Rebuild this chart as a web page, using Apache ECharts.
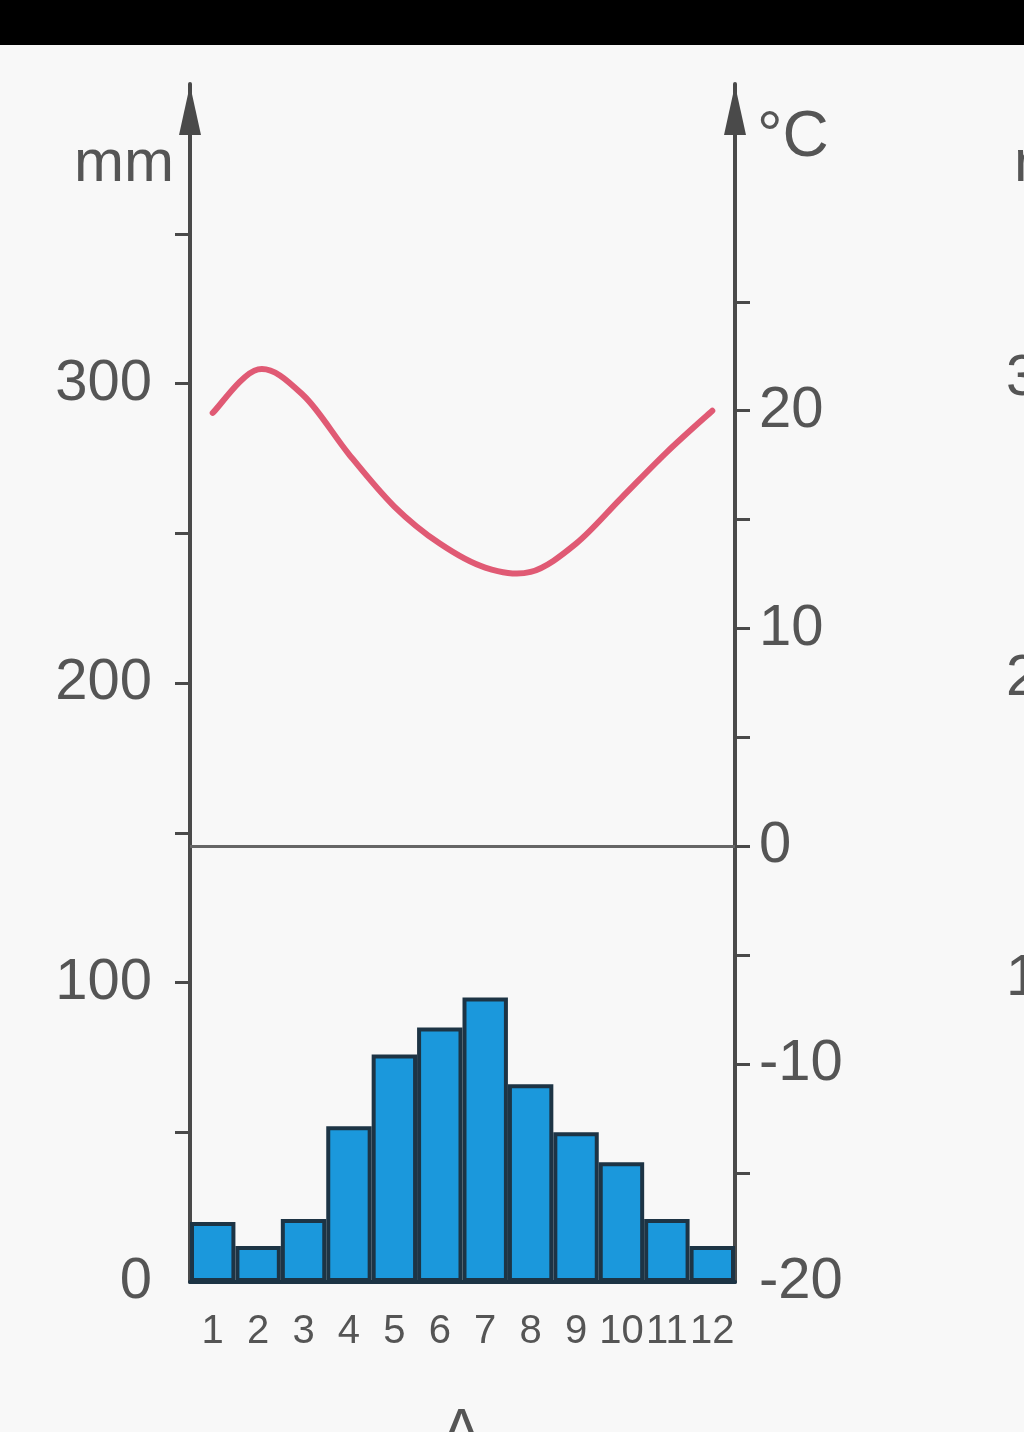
<!DOCTYPE html>
<html>
<head>
<meta charset="utf-8">
<script src="https://cdn.jsdelivr.net/npm/echarts@6/dist/echarts.min.js"></script>
<style>
html,body{margin:0;padding:0;background:#f8f8f8;}
#chart{width:1024px;height:1432px;}
</style>
</head>
<body>
<div id="chart"></div>
<script>
const months = ['1','2','3','4','5','6','7','8','9','10','11','12'];
const precipitation = [20, 12, 21, 52, 76, 85, 95, 66, 50, 40, 21, 12];
const temperature = [19.9, 21.9, 20.7, 18.0, 15.6, 13.9, 12.8, 12.6, 13.9, 16.0, 18.1, 20.0];
const mmTicks = [50, 100, 150, 200, 250, 300, 350];
const mmLabels = [0, 100, 200, 300];
const tTicks = [-15, -10, -5, 0, 5, 10, 15, 20, 25];
const tLabels = [-20, -10, 0, 10, 20];

const FONT = '"Liberation Sans", Arial, sans-serif';
const TXT = '#555555';
const AX = '#4a4a4a';

// smooth curve through the temperature points, positioned by the axes (api.coord)
function renderTemp(params, api) {
  if (params.dataIndex !== 0) return null;
  const pts = temperature.map((v, i) => api.coord([i, v]));
  let d = 'M' + pts[0][0] + ' ' + pts[0][1];
  for (let i = 0; i < pts.length - 1; i++) {
    const p0 = pts[Math.max(i - 1, 0)], p1 = pts[i], p2 = pts[i + 1], p3 = pts[Math.min(i + 2, pts.length - 1)];
    const c1x = p1[0] + (p2[0] - p0[0]) / 6, c1y = p1[1] + (p2[1] - p0[1]) / 6;
    const c2x = p2[0] - (p3[0] - p1[0]) / 6, c2y = p2[1] - (p3[1] - p1[1]) / 6;
    d += ' C' + c1x + ' ' + c1y + ' ' + c2x + ' ' + c2y + ' ' + p2[0] + ' ' + p2[1];
  }
  return {
    type: 'path',
    shape: {pathData: d},
    style: {fill: 'none', stroke: '#e05a74', lineWidth: 6, lineCap: 'round'}
  };
}

const chart = echarts.init(document.getElementById('chart'));
chart.setOption({
  backgroundColor: '#f8f8f8',
  animation: false,
  grid: {left: 190, right: 289, top: 84, bottom: 150},
  xAxis: {
    type: 'category',
    data: months,
    boundaryGap: true,
    axisLine: {show: true, lineStyle: {color: '#1d3445', width: 4}},
    axisTick: {show: false},
    axisLabel: {fontFamily: FONT, fontSize: 40, color: TXT, margin: 30, interval: 0}
  },
  yAxis: [
    {
      type: 'value', position: 'left', min: 0, max: 400, interval: 50,
      splitLine: {show: false},
      axisLine: {show: true, symbol: ['none', 'triangle'], symbolSize: [22, 50], symbolOffset: [0, -26],
                 lineStyle: {color: AX, width: 4}},
      axisTick: {show: true, length: 15, customValues: mmTicks, lineStyle: {color: AX, width: 3}},
      axisLabel: {customValues: mmLabels, fontFamily: FONT, fontSize: 58, color: TXT, margin: 38}
    },
    {
      type: 'value', position: 'right', min: -20, max: 35, interval: 5,
      splitLine: {show: false},
      axisLine: {show: true, symbol: ['none', 'triangle'], symbolSize: [22, 50], symbolOffset: [0, -26],
                 lineStyle: {color: AX, width: 4}},
      axisTick: {show: true, length: 15, customValues: tTicks, lineStyle: {color: AX, width: 3}},
      axisLabel: {customValues: tLabels, fontFamily: FONT, fontSize: 58, color: TXT, margin: 24}
    }
  ],
  series: [
    {
      type: 'bar', yAxisIndex: 0, data: precipitation, barCategoryGap: '0%',
      itemStyle: {color: '#1b98dc', borderColor: '#1d3445', borderWidth: 4}
    },
    {
      type: 'custom', yAxisIndex: 1, coordinateSystem: 'cartesian2d',
      data: temperature.map((v, i) => [i, v]),
      encode: {x: 0, y: 1},
      renderItem: renderTemp,
      clip: false,
      markLine: {
        silent: true, symbol: ['none', 'none'], label: {show: false},
        lineStyle: {color: '#666666', width: 3, type: 'solid'},
        data: [{yAxis: 0}]
      }
    }
  ],
  graphic: [
    {type: 'rect', left: 0, top: 0, shape: {width: 1024, height: 45}, style: {fill: '#000'}},
    {type: 'text', left: 74, top: 134, style: {text: 'mm', font: '60px "Liberation Sans"', fill: TXT}},
    {type: 'text', left: 757, top: 106, style: {text: '°C', font: '64px "Liberation Sans"', fill: TXT}},
    {type: 'text', left: 1014, top: 134, style: {text: 'mm', font: '60px "Liberation Sans"', fill: TXT}},
    {type: 'text', left: 1006, top: 350, style: {text: '300', font: '58px "Liberation Sans"', fill: TXT}},
    {type: 'text', left: 1006, top: 650, style: {text: '200', font: '58px "Liberation Sans"', fill: TXT}},
    {type: 'text', left: 1006, top: 950, style: {text: '100', font: '58px "Liberation Sans"', fill: TXT}},
    {type: 'text', left: 442, top: 1404, style: {text: 'A', font: '58px "Liberation Sans"', fill: TXT}}
  ]
});
</script>
</body>
</html>
